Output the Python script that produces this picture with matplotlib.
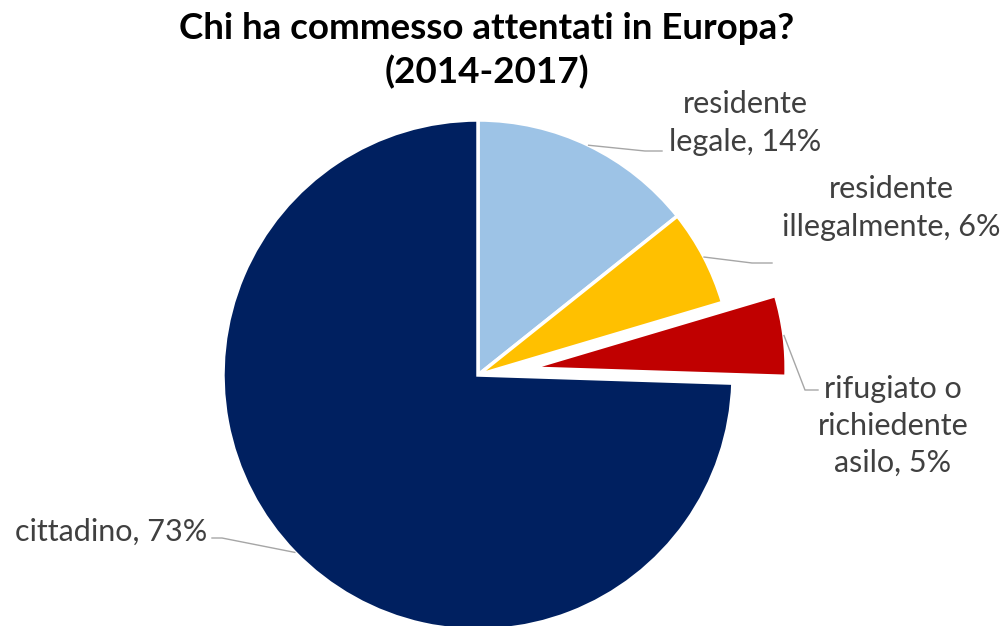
import numpy as np
import matplotlib
matplotlib.use("Agg")
import matplotlib.pyplot as plt

# Data
labels = ["residente\nlegale", "residente\nillegalmente",
          "rifugiato o\nrichiedente\nasilo", "cittadino"]
values = [14, 6, 5, 73]
colors = ["#9DC3E6", "#FFC000", "#C00000", "#002060"]
explode = [0, 0, 0.21, 0]

title_text = "Chi ha commesso attentati in Europa?\n(2014-2017)"

W, H = 1007, 626
fig = plt.figure(figsize=(W / 100, H / 100), dpi=100)
ax = fig.add_axes([0, 0, 1, 1])

# pie centre / radius in pixels
cx, cy, R = 478, 375, 255

wedges, _ = ax.pie(values, colors=colors, explode=explode, startangle=90,
                   counterclock=False, radius=1.0,
                   wedgeprops=dict(edgecolor="white", linewidth=2.5))

ax.set_aspect("auto")
ax.set_xlim(-cx / R, (W - cx) / R)
ax.set_ylim(-(H - cy) / R, cy / R)
ax.axis("off")


def px(x, y):
    """pixel position (from top-left) -> data coordinates"""
    return (x - cx) / R, (cy - y) / R


font = "Lato"
txt_color = "#404040"
fs = 22

# label placements: text centre, elbow of leader, end of leader
placements = [
    dict(text=(745, 123), elbow=(645, 151), end=(662, 151)),
    dict(text=(891, 208), elbow=(752, 263), end=(772, 263)),
    dict(text=(893, 426), elbow=(805, 390), end=(818, 390)),
    dict(text=(111, 532), elbow=(222, 538), end=(212, 538)),
]

for w, lab, v, p in zip(wedges, labels, values, placements):
    ang = np.deg2rad((w.theta1 + w.theta2) / 2)
    sx = w.center[0] + w.r * np.cos(ang)
    sy = w.center[1] + w.r * np.sin(ang)
    ex, ey = px(*p["elbow"])
    fx, fy = px(*p["end"])
    ax.plot([sx, ex, fx], [sy, ey, fy], color="#A6A6A6", lw=1.0,
            solid_joinstyle="miter")
    tx, ty = px(*p["text"])
    ax.text(tx, ty, f"{lab}, {v}%", ha="center", va="center",
            fontsize=fs, family=font, color=txt_color, linespacing=1.4)

fig.text(487 / W, 1 - 51 / H, title_text, ha="center", va="center",
         fontsize=26.5, fontweight="bold", family=font, color="black",
         linespacing=1.35)

fig.savefig("out.png", dpi=100, facecolor="white")
